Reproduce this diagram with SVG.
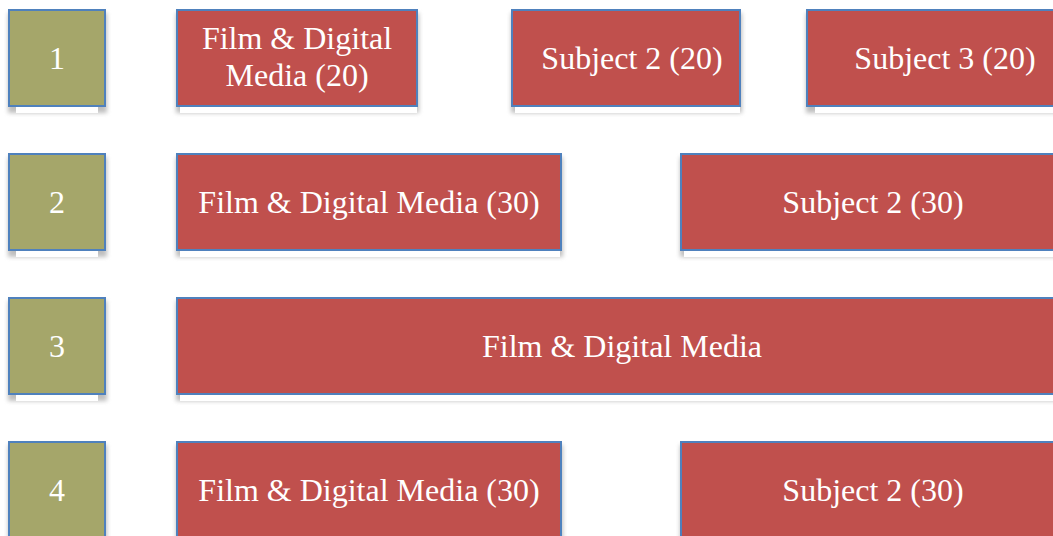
<svg xmlns="http://www.w3.org/2000/svg" width="1053" height="536" viewBox="0 0 1053 536">
<defs>
<filter id="sh" x="-10%" y="-10%" width="120%" height="130%">
<feGaussianBlur stdDeviation="2"/>
</filter>
</defs>
<style>
.g{fill:#A5A66A;stroke:#4F81BD;stroke-width:2}
.r{fill:#C0504D;stroke:#4F81BD;stroke-width:2}
.s{fill:#8a8a8a;opacity:0.55;filter:url(#sh)}
.w{fill:#ffffff}
text{font-family:"Liberation Serif","Times New Roman",serif;font-size:32px;fill:#ffffff;text-anchor:middle}
</style>
<rect width="1053" height="536" fill="#ffffff"/>
<g id="connectors"></g>

<g id="row1-num">
<rect class="s" x="8" y="13" width="99" height="100"/>
<rect class="g" x="9" y="10" width="96" height="96"/>
<rect class="w" x="16" y="107" width="82" height="6"/>
<text x="57" y="69">1</text>
</g>
<g id="row1-film">
<rect class="s" x="176" y="13" width="243" height="100"/>
<rect class="r" x="177" y="10" width="240" height="96"/>
<rect class="w" x="180" y="107" width="237" height="6"/>
<text x="297" y="49">Film &amp; Digital</text>
<text x="297" y="86">Media (20)</text>
</g>
<g id="row1-subj2">
<rect class="s" x="511" y="13" width="231" height="100"/>
<rect class="r" x="512" y="10" width="228" height="96"/>
<rect class="w" x="515" y="107" width="225" height="6"/>
<text x="632" y="69">Subject 2 (20)</text>
</g>
<g id="row1-subj3">
<rect class="s" x="806" y="13" width="283" height="100"/>
<rect class="r" x="807" y="10" width="280" height="96"/>
<rect class="w" x="815" y="107" width="272" height="6"/>
<text x="945" y="69">Subject 3 (20)</text>
</g>

<g id="row2-num">
<rect class="s" x="8" y="157" width="99" height="100"/>
<rect class="g" x="9" y="154" width="96" height="96"/>
<rect class="w" x="16" y="251" width="82" height="6"/>
<text x="57" y="213">2</text>
</g>
<g id="row2-film">
<rect class="s" x="176" y="157" width="387" height="100"/>
<rect class="r" x="177" y="154" width="384" height="96"/>
<rect class="w" x="180" y="251" width="380" height="6"/>
<text x="369" y="213">Film &amp; Digital Media (30)</text>
</g>
<g id="row2-subj2">
<rect class="s" x="680" y="157" width="387" height="100"/>
<rect class="r" x="681" y="154" width="384" height="96"/>
<rect class="w" x="684" y="251" width="380" height="6"/>
<text x="873" y="213">Subject 2 (30)</text>
</g>

<g id="row3-num">
<rect class="s" x="8" y="301" width="99" height="100"/>
<rect class="g" x="9" y="298" width="96" height="96"/>
<rect class="w" x="16" y="395" width="82" height="6"/>
<text x="57" y="357">3</text>
</g>
<g id="row3-film">
<rect class="s" x="176" y="301" width="892" height="100"/>
<rect class="r" x="177" y="298" width="889" height="96"/>
<rect class="w" x="180" y="395" width="885" height="6"/>
<text x="622" y="357">Film &amp; Digital Media</text>
</g>

<g id="row4-num">
<rect class="s" x="8" y="445" width="99" height="100"/>
<rect class="g" x="9" y="442" width="96" height="96"/>
<text x="57" y="501">4</text>
</g>
<g id="row4-film">
<rect class="s" x="176" y="445" width="387" height="100"/>
<rect class="r" x="177" y="442" width="384" height="96"/>
<text x="369" y="501">Film &amp; Digital Media (30)</text>
</g>
<g id="row4-subj2">
<rect class="s" x="680" y="445" width="387" height="100"/>
<rect class="r" x="681" y="442" width="384" height="96"/>
<text x="873" y="501">Subject 2 (30)</text>
</g>
</svg>
